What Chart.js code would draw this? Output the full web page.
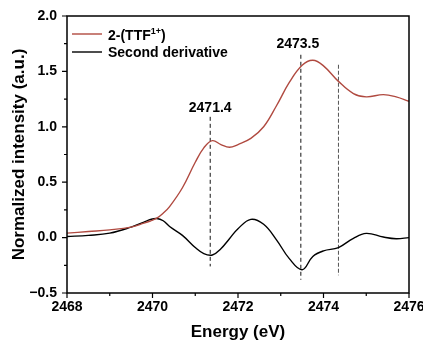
<!DOCTYPE html>
<html>
<head>
<meta charset="utf-8">
<script src="https://cdn.jsdelivr.net/npm/chart.js@4/dist/chart.umd.min.js"></script>
<style>
  html, body { margin: 0; padding: 0; background: #fff; }
  #wrap { width: 423px; height: 343px; }
</style>
</head>
<body>
<div id="wrap"><canvas id="xanes"></canvas></div>
<script>
// energy grid (eV)
const energy = [2468, 2468.5, 2469, 2469.5, 2469.8, 2469.95, 2470.1, 2470.25, 2470.4, 2470.7, 2471.0, 2471.2,
  2471.4, 2471.6, 2471.8, 2472.0, 2472.3, 2472.6, 2472.9, 2473.2, 2473.5, 2473.75,
  2474.0, 2474.35, 2474.7, 2475.0, 2475.4, 2475.7, 2476];
// 2-(TTF1+) normalized intensity
const ttfIntensity = [0.04, 0.055, 0.07, 0.095, 0.13, 0.15, 0.175, 0.22, 0.28, 0.45, 0.68, 0.81,
  0.875, 0.84, 0.815, 0.84, 0.895, 1.0, 1.19, 1.40, 1.555, 1.60,
  1.55, 1.41, 1.30, 1.27, 1.29, 1.27, 1.23];
// second derivative
const secondDeriv = [0.01, 0.02, 0.04, 0.095, 0.14, 0.163, 0.172, 0.152, 0.10, 0.02, -0.09, -0.145,
  -0.157, -0.10, -0.01, 0.08, 0.165, 0.12, -0.02, -0.19, -0.29, -0.17,
  -0.12, -0.09, -0.006, 0.038, 0.005, -0.01, 0.0];

// dashed marker lines
const markerEnergy = [2471.35, 2473.47, 2474.35];
const markerTop = [1.09, 1.65, 1.56];
const markerBottom = [-0.26, -0.38, -0.34];
const markerColor = ['#111', '#111', '#555'];

// peak labels
const peakText = ['2471.4', '2473.5'];
const peakX = [2471.35, 2473.4];
const peakY = [1.17, 1.75];

const seriesNames = ['2-(TTF', 'Second derivative'];
const seriesColors = ['#b04a40', '#000000'];

const BOLD = 'bold 14px "Liberation Sans", Arial, sans-serif';

function pts(ys) {
  return energy.map((x, i) => ({ x: x, y: ys[i] }));
}

const datasets = [
  { data: pts(ttfIntensity), borderColor: seriesColors[0], borderWidth: 1.4, tension: 0.4, pointRadius: 0 },
  { data: pts(secondDeriv), borderColor: seriesColors[1], borderWidth: 1.4, tension: 0.4, pointRadius: 0 },
];
markerEnergy.forEach((e, i) => {
  datasets.push({
    data: [{ x: e, y: markerTop[i] }, { x: e, y: markerBottom[i] }],
    borderColor: markerColor[i],
    borderWidth: 1,
    borderDash: i === 2 ? [4, 2] : [4, 3],
    pointRadius: 0,
  });
});

// frame, minor/major ticks, legend and peak labels
const decor = {
  id: 'decor',
  afterDraw(chart) {
    const { ctx, chartArea: a, scales: { x, y } } = chart;
    ctx.save();
    ctx.strokeStyle = '#000';
    ctx.lineWidth = 1.5;
    ctx.strokeRect(a.left, a.top, a.right - a.left, a.bottom - a.top);

    ctx.lineWidth = 1.2;
    ctx.beginPath();
    for (let v = 2468; v <= 2476; v += 1) {
      const px = x.getPixelForValue(v);
      const len = v % 2 === 0 ? 5 : 3;
      ctx.moveTo(px, a.bottom);
      ctx.lineTo(px, a.bottom + len);
    }
    for (let k = 0; k <= 10; k++) {
      const v = -0.5 + k * 0.25;
      const py = y.getPixelForValue(v);
      const len = k % 2 === 0 ? 5 : 3;
      ctx.moveTo(a.left, py);
      ctx.lineTo(a.left - len, py);
    }
    ctx.stroke();

    // legend
    const rows = [34, 52];
    ctx.lineWidth = 1.4;
    rows.forEach((ry, i) => {
      ctx.strokeStyle = seriesColors[i];
      ctx.beginPath();
      ctx.moveTo(72, ry);
      ctx.lineTo(102, ry);
      ctx.stroke();
    });
    ctx.fillStyle = '#000';
    ctx.textBaseline = 'middle';
    ctx.textAlign = 'left';
    ctx.font = BOLD;
    ctx.fillText(seriesNames[0], 108, rows[0] + 2);
    let w = ctx.measureText(seriesNames[0]).width;
    ctx.font = 'bold 9px "Liberation Sans", Arial, sans-serif';
    ctx.fillText('1+', 108 + w, rows[0] - 2);
    const w2 = ctx.measureText('1+').width;
    ctx.font = BOLD;
    ctx.fillText(')', 108 + w + w2, rows[0] + 2);
    ctx.fillText(seriesNames[1], 108, rows[1] + 1);

    // peak labels
    ctx.textAlign = 'center';
    peakText.forEach((t, i) => {
      ctx.fillText(t, x.getPixelForValue(peakX[i]), y.getPixelForValue(peakY[i]));
    });
    ctx.restore();
  }
};

new Chart(document.getElementById('xanes'), {
  type: 'line',
  data: { datasets },
  options: {
    responsive: true,
    maintainAspectRatio: false,
    animation: false,
    layout: { padding: { top: 16, right: 14, left: 0, bottom: 0 } },
    plugins: { legend: { display: false }, tooltip: { enabled: false } },
    scales: {
      x: {
        type: 'linear',
        min: 2468,
        max: 2476,
        grid: { display: false, drawTicks: false },
        border: { display: false },
        ticks: {
          stepSize: 2,
          padding: 6,
          color: '#000',
          font: { family: '"Liberation Sans", Arial, sans-serif', size: 14, weight: 'bold' },
          callback: v => String(v),
        },
        title: {
          display: true,
          text: 'Energy (eV)',
          color: '#000',
          font: { family: '"Liberation Sans", Arial, sans-serif', size: 17, weight: 'bold' },
          padding: { top: 0, bottom: 0 },
        },
        afterFit(s) { s.height = 50; s.paddingLeft = 0; s.paddingRight = 0; },
      },
      y: {
        min: -0.5,
        max: 2.0,
        grid: { display: false, drawTicks: false },
        border: { display: false },
        ticks: {
          stepSize: 0.5,
          padding: 10,
          color: '#000',
          font: { family: '"Liberation Sans", Arial, sans-serif', size: 14, weight: 'bold' },
          callback: v => (v < 0 ? '\u2212' + Math.abs(v).toFixed(1) : v.toFixed(1)),
        },
        title: {
          display: true,
          text: 'Normalized intensity (a.u.)',
          color: '#000',
          font: { family: '"Liberation Sans", Arial, sans-serif', size: 17, weight: 'bold' },
          padding: { top: 9, bottom: 0 },
        },
        afterFit(s) { s.width = 67; s.paddingTop = 0; s.paddingBottom = 0; },
      },
    },
  },
  plugins: [decor],
});
</script>
</body>
</html>
